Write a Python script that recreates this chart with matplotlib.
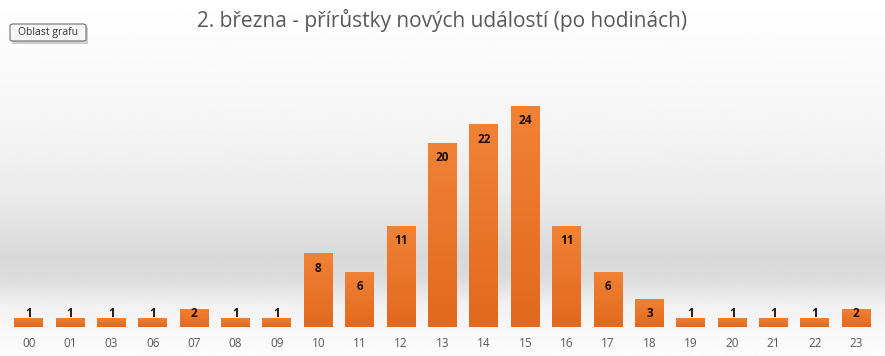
import numpy as np
import matplotlib
matplotlib.use("Agg")
import matplotlib.pyplot as plt
from matplotlib.colors import LinearSegmentedColormap
from matplotlib.patches import FancyBboxPatch

hours = ["00", "01", "03", "06", "07", "08", "09", "10", "11", "12", "13",
         "14", "15", "16", "17", "18", "19", "20", "21", "22", "23"]
counts = [1, 1, 1, 1, 2, 1, 1, 8, 6, 11, 20, 22, 24, 11, 6, 3, 1, 1, 1, 1, 2]
title = "2. března - přírůstky nových událostí (po hodinách)"

plt.rcParams['font.family'] = ['Open Sans', 'DejaVu Sans']

W, H = 885, 356
fig = plt.figure(figsize=(W / 100, H / 100), dpi=100)

# background gradient (white -> grey band -> white)
bg = fig.add_axes([0, 0, 1, 1], zorder=0)
stops = [(0.0, 1.0), (0.35, 0.96), (0.55, 0.92), (0.72, 0.85), (0.78, 0.86),
         (0.86, 0.95), (1.0, 0.99)]
ys = np.linspace(0, 1, 400)
vals = np.interp(ys, [s[0] for s in stops], [s[1] for s in stops])
bg.imshow(np.repeat(vals[:, None], 2, axis=1), cmap='gray', vmin=0, vmax=1,
          aspect='auto', extent=[0, 1, 0, 1], origin='upper')
bg.set_axis_off()

# plot area
x0, x1 = 8 / W, 877 / W
yb, yt = 1 - 327 / H, 1 - 60 / H
ax = fig.add_axes([x0, yb, x1 - x0, yt - yb], zorder=1)
ax.patch.set_alpha(0)
ppu = (327 - 106) / 24  # pixels per unit
ymax = (327 - 60) / ppu

x = np.arange(len(hours))
bars = ax.bar(x, counts, width=0.7, color='#e87125', zorder=2)

cmap = LinearSegmentedColormap.from_list('o', ['#f08236', '#e2691d'])
grad = np.linspace(0, 1, 100)[:, None]
for b in bars:
    bx, by, bw, bh = b.get_x(), b.get_y(), b.get_width(), b.get_height()
    im = ax.imshow(grad, cmap=cmap, aspect='auto', origin='upper',
                   extent=[bx, bx + bw, by, by + bh], zorder=3)
    im.set_clip_path(b)

ax.set_xlim(-0.5, len(hours) - 0.5)
ax.set_ylim(0, ymax)

# labels inside the top of the bar, but never below a minimum height
for xi, c in zip(x, counts):
    ly = max(c - 15 / ppu, 13.5 / ppu)
    ax.text(xi, ly, str(c), ha='center', va='center', fontsize=8.5,
            fontweight='bold', color='#1a0a00', zorder=4)

ax.set_xticks(x)
ax.set_xticklabels(hours, fontsize=8.5, color='#595959')
ax.tick_params(axis='x', length=0, pad=7)
ax.set_yticks([])
for s in ax.spines.values():
    s.set_visible(False)

fig.text(442 / W, 1 - 20 / H, title, ha='center', va='center',
         fontsize=15, color='#595959')

# "Oblast grafu" tooltip box
shadow = FancyBboxPatch((12 / W, 1 - 43.5 / H), 76 / W, 17 / H,
                        boxstyle='square,pad=0', transform=fig.transFigure,
                        facecolor='#b0b0b0', edgecolor='none', alpha=0.6, zorder=5)
box = FancyBboxPatch((10 / W, 1 - 41 / H), 76 / W, 17 / H,
                     boxstyle='round,pad=0,rounding_size=0.004',
                     transform=fig.transFigure, facecolor='#f6f6f6',
                     edgecolor='#707070', linewidth=0.8, zorder=6)
fig.patches.extend([shadow, box])
fig.text(48 / W, 1 - 32.5 / H, "Oblast grafu", ha='center', va='center',
         fontsize=7.5, color='#333333', zorder=7)

fig.savefig('out.png', dpi=100)
